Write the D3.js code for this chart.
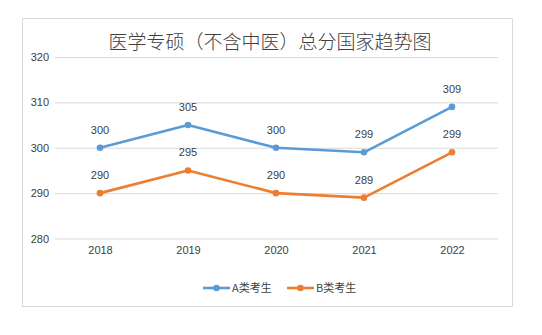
<!DOCTYPE html>
<html><head><meta charset="utf-8">
<script src="https://cdn.jsdelivr.net/npm/d3@7"></script>
<style>body{margin:0;background:#fff;}svg{display:block;}</style>
</head><body>
<svg id="c" width="542" height="335"></svg>
<script>
const title = "医学专硕（不含中医）总分国家趋势图";
const categories = ["2018","2019","2020","2021","2022"];
const seriesNames = ["A类考生","B类考生"];
const seriesA = [300,305,300,299,309];
const seriesB = [290,295,290,289,299];
const yTicks = [280,290,300,310,320];
const colors = ["#5B9BD5","#ED7D31"];

const svg = d3.select("#c");
svg.append("rect").attr("x",22.5).attr("y",18.5).attr("width",490).attr("height",288)
  .attr("fill","#fff").attr("stroke","#d9d9d9");

svg.append("text").attr("x",270).attr("y",49).attr("text-anchor","middle")
  .attr("font-family","Noto Sans CJK SC").attr("font-weight",300).attr("font-size",19)
  .attr("fill","#404040").text(title);

const x = d3.scalePoint().domain(categories).range([100,452]);
const y = d3.scaleLinear().domain([280,320]).range([238.5,57]);

const gy = svg.append("g").attr("transform","translate(55,0)")
  .call(d3.axisLeft(y).tickValues(yTicks).tickSize(-443).tickPadding(6));
gy.select(".domain").remove();
gy.selectAll(".tick line").attr("stroke","#d9d9d9");
gy.selectAll(".tick text").attr("font-family","Liberation Sans").attr("font-size",11).attr("fill","#404040");

const gx = svg.append("g").attr("transform","translate(0,238.5)")
  .call(d3.axisBottom(x).tickSize(0).tickPadding(8));
gx.select(".domain").remove();
gx.selectAll(".tick text").attr("font-family","Liberation Sans").attr("font-size",11).attr("fill","#404040");

const series = [seriesA, seriesB];
const line = d3.line().x((d,i)=>x(categories[i])).y(d=>y(d));
series.forEach((s,k)=>{
  svg.append("path").datum(s).attr("d",line).attr("fill","none")
    .attr("stroke",colors[k]).attr("stroke-width",2.6).attr("stroke-linejoin","round");
  svg.selectAll(null).data(s).enter().append("circle")
    .attr("cx",(d,i)=>x(categories[i])).attr("cy",d=>y(d)).attr("r",3.3).attr("fill",colors[k]);
  svg.selectAll(null).data(s).enter().append("text")
    .attr("x",(d,i)=>x(categories[i])).attr("y",d=>y(d)-14).attr("text-anchor","middle")
    .attr("font-family","Liberation Sans").attr("font-size",11).attr("fill","#404040").text(d=>d);
});

const legX = [203, 287];
seriesNames.forEach((n,k)=>{
  const g = svg.append("g").attr("transform",`translate(${legX[k]},288)`);
  g.append("line").attr("x1",0).attr("x2",27).attr("stroke",colors[k]).attr("stroke-width",2.6);
  g.append("circle").attr("cx",13.5).attr("r",3.3).attr("fill",colors[k]);
  g.append("text").attr("x",29).attr("y",4).attr("font-family","Noto Sans CJK SC")
    .attr("font-size",11).attr("fill","#404040").text(n);
});
</script>
</body></html>
